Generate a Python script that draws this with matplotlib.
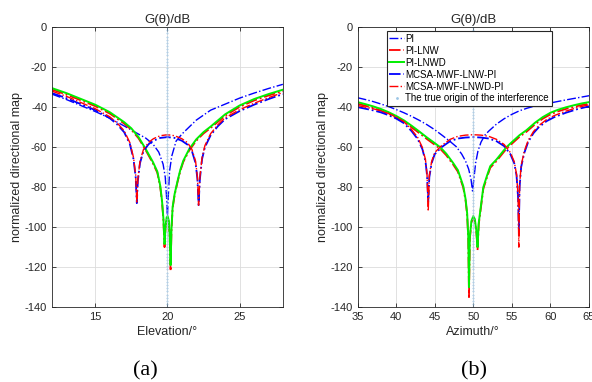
import matplotlib.pyplot as plt
import numpy as np

plt.rcParams['font.family'] = ['Liberation Sans', 'DejaVu Sans']
plt.rcParams['axes.unicode_minus'] = False

labels = ["PI", "PI-LNW", "PI-LNWD", "MCSA-MWF-LNW-PI", "MCSA-MWF-LNWD-PI",
          "The true origin of the interference"]

# ---- (a) elevation ----
el_pi_x = [12, 13, 14, 15, 16, 17, 18, 18.5, 19, 19.4, 19.7, 19.85, 19.95, 20.0,
           20.05, 20.15, 20.3, 20.6, 21, 21.5, 22, 23, 24, 25, 26, 27, 28]
el_pi_y = [-33.5, -36.2, -39.2, -42.2, -45.5, -49.4, -53.5, -55.5, -58.5, -62.5, -68.5,
           -75, -86, -95, -86, -72, -64.5, -57, -53.5, -50, -46.5, -41.5, -38.5, -35.5,
           -33, -30.7, -28.6]

el_lnw_x = [12, 13, 14, 15, 16, 17, 17.5, 18, 18.5, 19, 19.3, 19.5, 19.62, 19.72, 19.8,
            19.87, 19.95, 20.02, 20.1, 20.16, 20.22, 20.28, 20.36, 20.5, 20.7, 20.9, 21.1,
            21.5, 22, 22.5, 23, 24, 25, 26, 27, 28]
el_lnw_y = [-31.2, -33.7, -36.6, -39.5, -43.2, -48.2, -51.3, -55.6, -61.6, -68.2, -72.8,
            -79.8, -87, -96, -110, -100, -95.5, -95, -97.5, -106, -122, -102, -90.5, -84,
            -77.5, -71.8, -67.4, -61.8, -56.8, -53.2, -50.4, -44.3, -39.9, -36.7, -34.2,
            -32.0]

el_lnwd_x = [12, 13, 14, 15, 16, 17, 17.5, 18, 18.5, 19, 19.3, 19.5, 19.62, 19.72, 19.8,
             19.87, 19.95, 20.02, 20.1, 20.16, 20.22, 20.28, 20.36, 20.5, 20.7, 20.9, 21.1,
             21.5, 22, 22.5, 23, 24, 25, 26, 27, 28]
el_lnwd_y = [-30.5, -33.0, -35.9, -38.8, -42.5, -47.5, -50.6, -55.0, -61.0, -67.5, -72.2,
             -79.2, -86.4, -95.5, -108.5, -99.5, -95, -94.5, -97, -105, -119, -101, -90,
             -83.4, -77, -71.2, -66.8, -61.1, -56.1, -52.5, -49.7, -43.6, -39.2, -36.0,
             -33.5, -31.3]

el_mlnw_x = [12, 13, 14, 15, 16, 16.5, 17, 17.4, 17.65, 17.8, 17.88, 17.95, 18.1, 18.34,
             18.7, 19.03, 19.5, 20, 20.5, 21, 21.4, 21.7, 21.95, 22.08, 22.16, 22.25, 22.4,
             22.6, 23, 23.5, 24, 25, 26, 27, 28]
el_mlnw_y = [-33, -35.5, -38.5, -41.5, -45.5, -48.5, -52.5, -58.5, -66, -75, -88, -77, -68,
             -62, -58.5, -56.8, -55.4, -55, -55.4, -56.8, -58.8, -62, -68, -76, -89, -76,
             -66, -60, -54, -49.5, -46, -42, -38.8, -36, -33.5]

el_mlnwd_x = [12, 13, 14, 15, 16, 16.5, 17, 17.4, 17.65, 17.8, 17.88, 17.95, 18.1, 18.34,
              18.7, 19.03, 19.5, 20, 20.5, 21, 21.4, 21.7, 21.95, 22.08, 22.16, 22.25, 22.4,
              22.6, 23, 23.5, 24, 25, 26, 27, 28]
el_mlnwd_y = [-32, -34.6, -37.7, -40.8, -44.8, -47.8, -51.8, -57.8, -65.2, -74, -88, -76,
              -67, -61.2, -57.6, -55.8, -54.3, -53.8, -54.3, -55.8, -57.8, -61.2, -67, -75,
              -89, -75, -65.2, -59.2, -53.2, -48.8, -45.3, -41.3, -38.1, -35.3, -32.7]

# ---- (b) azimuth ----
az_pi_x = [35, 36, 37, 38, 39, 40, 41, 42, 43, 44, 45, 46, 47, 47.8, 48.5, 49, 49.4, 49.7,
           49.9, 50.1, 50.3, 50.6, 51, 51.5, 52, 53, 54, 55, 56, 57, 58, 59, 60, 62, 65]
az_pi_y = [-35.3, -36.2, -37.2, -38.4, -39.7, -41.2, -42.8, -44.6, -46.6, -48.8, -51.3,
           -54.2, -57.2, -59.8, -63.5, -67, -71, -76, -82, -75, -68, -62, -57.5, -54, -52,
           -48.5, -45.8, -43.6, -41.8, -40.5, -39.4, -38.6, -37.9, -36.4, -34.3]

az_lnw_x = [35, 36, 37, 38, 39, 40, 41, 42, 43, 44, 45, 45.7, 46.5, 47.4, 48, 48.7, 49.0,
            49.2, 49.35, 49.44, 49.55, 49.75, 50.0, 50.2, 50.4, 50.55, 50.7, 50.9, 51.3,
            51.8, 52.2, 53, 54.3, 55, 56, 56.9, 58, 59, 60, 61, 62, 63, 64, 65]
az_lnw_y = [-38.3, -39.3, -40.4, -41.7, -43.3, -45.2, -47.4, -50.1, -53.0, -56.0, -58.8,
            -60.8, -64.1, -68.8, -72.3, -80.3, -86.8, -93.8, -106, -135, -106, -97.8,
            -95.3, -96.8, -102.8, -111.5, -98.8, -92.8, -80.8, -74.8, -70.3, -67, -60.8,
            -58.3, -54.8, -52.3, -48.6, -45.8, -43.6, -42.1, -40.9, -39.9, -39.0, -38.3]

az_lnwd_x = az_lnw_x
az_lnwd_y = [-37.5, -38.5, -39.6, -40.9, -42.5, -44.4, -46.6, -49.3, -52.2, -55.2, -58.0,
             -60.0, -63.3, -68.0, -71.5, -79.5, -86, -93, -105, -130, -105, -97, -94.5,
             -96, -102, -110, -98, -92, -80, -74, -69.5, -66.2, -60, -57.5, -54, -51.5,
             -47.8, -45, -42.8, -41.3, -40.1, -39.1, -38.2, -37.5]

az_mlnw_x = [35, 36, 37, 38, 39, 40, 41, 42, 42.8, 43.4, 43.8, 44.0, 44.16, 44.3, 44.6, 45,
             45.9, 47, 48, 49, 50, 51, 52, 53, 54, 54.8, 55.3, 55.6, 55.8, 55.9, 56.0,
             56.2, 56.6, 57.1, 57.8, 58.5, 59.5, 60.5, 62, 63.5, 65]
az_mlnw_y = [-40, -40.8, -41.6, -42.6, -44, -45.7, -48, -52, -56, -61, -67, -74, -87, -75,
             -68, -63.5, -60, -57, -55.7, -55.2, -55, -55.2, -55.7, -57, -59.5, -63.5, -68,
             -74, -85, -101, -80, -70, -63, -57.5, -53, -50, -47, -45, -42.8, -41, -39.6]

az_mlnwd_x = az_mlnw_x
az_mlnwd_y = [-39.2, -40, -40.8, -41.8, -43.2, -44.9, -47.2, -51.2, -55.2, -60.2, -66.2,
              -73.5, -92, -74, -67.2, -62.7, -59.2, -56.1, -54.6, -54.0, -53.8, -54.0,
              -54.6, -56.1, -58.7, -62.7, -67.2, -73.5, -84, -110, -79, -69.2, -62.2,
              -56.7, -52.2, -49.2, -46.2, -44.2, -42, -40.2, -38.8]

origin_el = 20
origin_az = 50
origin_y = np.linspace(0, -140, 90)

fig = plt.figure(figsize=(5.92, 3.82), dpi=100)
ax1 = fig.add_axes([0.0878, 0.196, 0.390, 0.733])
ax2 = fig.add_axes([0.604, 0.196, 0.391, 0.733])


def draw(ax, series, origin):
    (px, py), (lx, ly), (dx, dy), (m1x, m1y), (m2x, m2y) = series
    ax.plot(px, py, '-.', color='#0000ff', lw=1.0, label=labels[0])
    ax.plot(lx, ly, '-.', color='#ff0000', lw=1.3, label=labels[1])
    ax.plot(dx, dy, '-', color='#00ee00', lw=1.4, label=labels[2])
    ax.plot(m1x, m1y, '-.', color='#0000ff', lw=1.3, label=labels[3])
    ax.plot(m2x, m2y, '-.', color='#ff0000', lw=1.0, label=labels[4])
    ax.plot([origin] * len(origin_y), origin_y, linestyle='none', marker='.',
            ms=0.8, color='#9cc6e6', label=labels[5])
    ax.set_ylim(-140, 0)
    ax.set_yticks(np.arange(-140, 1, 20))
    ax.set_title("G(θ)/dB", fontsize=9.5, pad=3, color='#262626')
    ax.set_ylabel("normalized directional map", fontsize=9, color='#262626', labelpad=1)
    ax.grid(True, color='#dcdcdc', lw=0.6)
    ax.set_axisbelow(True)
    ax.tick_params(direction='in', length=3, top=True, right=True, labelsize=8,
                   colors='#262626', width=0.6)
    for s in ax.spines.values():
        s.set_color('#262626')
        s.set_linewidth(0.6)


draw(ax1, [(el_pi_x, el_pi_y), (el_lnw_x, el_lnw_y), (el_lnwd_x, el_lnwd_y),
           (el_mlnw_x, el_mlnw_y), (el_mlnwd_x, el_mlnwd_y)], origin_el)
ax1.set_xlim(12, 28)
ax1.set_xticks([15, 20, 25])
ax1.set_xlabel("Elevation/°", fontsize=9, color='#262626', labelpad=3)

draw(ax2, [(az_pi_x, az_pi_y), (az_lnw_x, az_lnw_y), (az_lnwd_x, az_lnwd_y),
           (az_mlnw_x, az_mlnw_y), (az_mlnwd_x, az_mlnwd_y)], origin_az)
ax2.set_xlim(35, 65)
ax2.set_xticks(np.arange(35, 66, 5))
ax2.set_xlabel("Azimuth/°", fontsize=9, color='#262626', labelpad=3)

leg = ax2.legend(loc='upper left', bbox_to_anchor=(0.125, 0.985), fontsize=7,
                 handlelength=1.6, handletextpad=0.1, labelspacing=0.2, borderpad=0.25,
                 borderaxespad=0, fancybox=False, framealpha=1, markerscale=2.5)
leg.get_frame().set_edgecolor('#262626')
leg.get_frame().set_linewidth(0.8)

fig.text(0.245, 0.018, "(a)", fontsize=16, family='Liberation Serif', ha='center')
fig.text(0.8, 0.018, "(b)", fontsize=16, family='Liberation Serif', ha='center')

fig.savefig("out.png", dpi=100)
